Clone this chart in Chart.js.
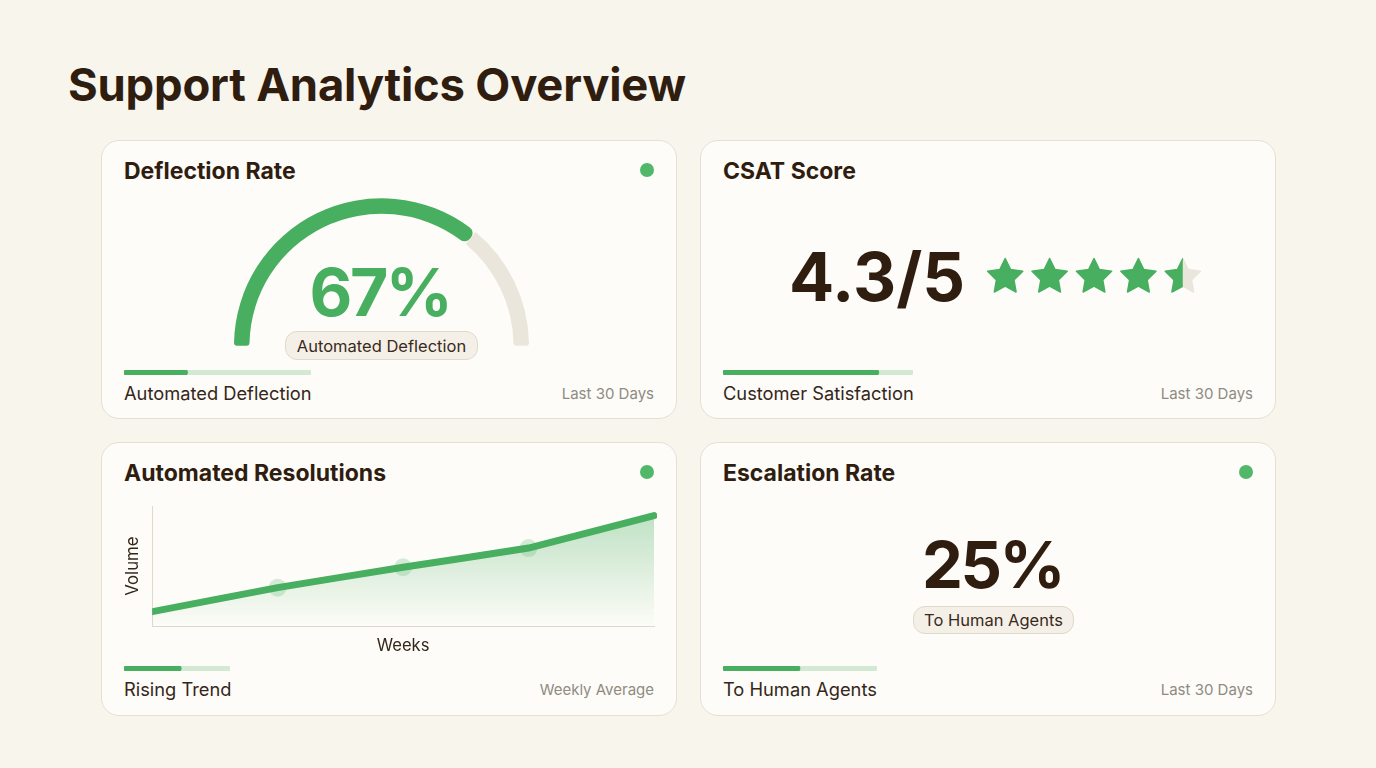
<!DOCTYPE html>
<html><head><meta charset="utf-8">
<script src="https://cdn.jsdelivr.net/npm/chart.js@4"></script>
<style>
html,body{margin:0;padding:0;width:1376px;height:768px;overflow:hidden;background:#f8f5ed;font-family:Inter,sans-serif;color:#2f1d10}
.t{position:absolute;white-space:nowrap;line-height:1;transform:translateY(-50%)}
.card{position:absolute;box-sizing:border-box;background:#fdfcf8;border:1.5px solid #e5e0d1;border-radius:18px}
.dot{position:absolute;width:14px;height:14px;border-radius:50%;background:#52b869}
.pill{position:absolute;box-sizing:border-box;background:#f4f0e7;border:1.5px solid #dfd9c9;border-radius:12px;display:flex;align-items:center;justify-content:center;font-size:16.5px;color:#3a2a1c}
canvas{position:absolute;display:block}
</style></head><body>
<div id="root"></div>
<script>
const pageTitle = "Support Analytics Overview";
const cardTitles = ["Deflection Rate","CSAT Score","Automated Resolutions","Escalation Rate"];
const footerLabels = ["Automated Deflection","Customer Satisfaction","Rising Trend","To Human Agents"];
const footerNotes = ["Last 30 Days","Last 30 Days","Weekly Average","Last 30 Days"];
const progressValues = [34,82,54,50];
const gaugeValues = [72,28];
const gaugeText = "67%";
const gaugeCaption = "Automated Deflection";
const csatText = "4.3/5";
const starPositions = [1,2,3,4,5];
const starFills = [1,1,1,1,0.5];
const weeks = ["W1","W2","W3","W4","W5"];
const volume = [12,32,49,65,92];
const markerVolume = [null,32,49,65,null];
const escalationText = "25%";
const escalationCaption = "To Human Agents";

const GREEN="#47af5f", TRACK="#ebe6dc", PALE="#d3e9d3";
const root=document.getElementById('root');
function el(cls,css,text){const d=document.createElement('div');d.className=cls;d.style.cssText=css;if(text)d.textContent=text;root.appendChild(d);return d;}
function cv(x,y,w,h){const c=document.createElement('canvas');c.width=w;c.height=h;c.style.cssText=`left:${x}px;top:${y}px;width:${w}px;height:${h}px`;root.appendChild(c);return c;}
Chart.defaults.animation=false;
Chart.defaults.responsive=false;
Chart.defaults.font.family="Inter, sans-serif";

el('t','left:68px;top:84.5px;font-size:45.4px;font-weight:700;letter-spacing:-0.2px',pageTitle);

const cards=[[101,140,576,278.5],[700,140,576,278.5],[101,442,576,273.5],[700,442,576,273.5]];
const titleY=[170.5,170.5,472.5,472.5], footY=[392.8,392.8,688.8,688.8], barY=[370,370,666,666];
const barW=[187,190,106,154];
cards.forEach((c,i)=>{
  el('card',`left:${c[0]}px;top:${c[1]}px;width:${c[2]}px;height:${c[3]}px`);
});
cards.forEach((c,i)=>{
  el('t',`left:${c[0]+23}px;top:${titleY[i]}px;font-size:23px;font-weight:700`,cardTitles[i]);
  el('t',`left:${c[0]+23}px;top:${footY[i]}px;font-size:18.3px;font-weight:400;color:#35261a`,footerLabels[i]);
  el('t',`right:${1376-c[0]-553}px;top:${footY[i]}px;font-size:15px;color:#8f8b82`,footerNotes[i]);
  if(i!==1) el('dot',`left:${c[0]+539}px;top:${titleY[i]-7.5}px`);
  new Chart(cv(c[0]+23,barY[i],barW[i],5),{type:'bar',
    data:{labels:[''],datasets:[
      {data:[progressValues[i]],backgroundColor:GREEN,borderRadius:3,borderSkipped:false,order:1},
      {data:[100],backgroundColor:PALE,borderRadius:3,borderSkipped:false,order:2}]},
    options:{indexAxis:'y',maintainAspectRatio:false,layout:{padding:0},
      datasets:{bar:{grouped:false,barPercentage:1,categoryPercentage:1}},
      plugins:{legend:{display:false},tooltip:{enabled:false}},
      scales:{x:{display:false,min:0,max:100},y:{display:false}}}});
});

// gauge
new Chart(cv(234,198,295,148),{type:'doughnut',
  data:{labels:['Automated','Other'],datasets:[{data:gaugeValues,backgroundColor:[GREEN,TRACK],borderWidth:0,
    borderRadius:[{outerStart:3,innerStart:3,outerEnd:7,innerEnd:7},{outerStart:0,innerStart:0,outerEnd:3,innerEnd:3}]}]},
  options:{rotation:-90,circumference:180,cutout:'89.5%',maintainAspectRatio:false,layout:{padding:0},
    plugins:{legend:{display:false},tooltip:{enabled:false}}}});
el('t',`left:380px;top:291.5px;font-size:66px;font-weight:700;letter-spacing:-2.5px;color:${GREEN};transform:translate(-50%,-50%)`,gaugeText);
el('pill','left:285px;top:331px;width:193px;height:29px',gaugeCaption);

// CSAT
el('t','left:789px;top:275.5px;font-size:67px;font-weight:700',csatText);
const starPlugin={id:'stars',afterDatasetsDraw(chart){
  const g=chart.ctx;
  chart.getDatasetMeta(0).data.forEach((pt,i)=>{
    const path=()=>{g.beginPath();for(let k=0;k<10;k++){const r=k%2?9.2:18.5,a=-Math.PI/2+k*Math.PI/5;g[k?'lineTo':'moveTo'](pt.x+r*Math.cos(a),pt.y+r*Math.sin(a));}g.closePath();};
    const split=pt.x-19.5+39*starFills[i];
    g.lineJoin='round';g.lineWidth=1.5;
    g.save();g.beginPath();g.rect(split,pt.y-25,40,50);g.clip();path();g.fillStyle=g.strokeStyle=TRACK;g.fill();g.stroke();g.restore();
    g.save();g.beginPath();g.rect(pt.x-25,pt.y-25,split-pt.x+25,50);g.clip();path();g.fillStyle=g.strokeStyle=GREEN;g.fill();g.stroke();g.restore();
  });
}};
new Chart(cv(983,255,222,44),{type:'scatter',plugins:[starPlugin],
  data:{datasets:[{data:starPositions.map(x=>({x,y:1})),pointRadius:0}]},
  options:{maintainAspectRatio:false,layout:{padding:0},
    plugins:{legend:{display:false},tooltip:{enabled:false}},
    scales:{x:{display:false,min:0.5,max:5.5},y:{display:false,min:0,max:2}}}});

// trend
new Chart(cv(123,497,541,159),{type:'line',
  data:{labels:weeks,datasets:[
    {data:volume,borderColor:GREEN,borderWidth:7,tension:0.05,pointRadius:0,borderCapStyle:'round',order:1,fill:'origin',
      clip:{left:0,top:false,right:3,bottom:false},
      backgroundColor:(ctx)=>{const a=ctx.chart.chartArea;if(!a)return 'transparent';
        const g=ctx.chart.ctx.createLinearGradient(0,a.top+8,0,a.bottom);
        g.addColorStop(0,'rgba(71,174,94,0.34)');g.addColorStop(1,'rgba(71,174,94,0)');return g;}},
    {data:markerVolume,showLine:false,pointRadius:9,pointBackgroundColor:'rgba(71,174,94,0.22)',pointBorderWidth:0,order:2}]},
  options:{maintainAspectRatio:false,layout:{padding:{left:0,right:10,top:6,bottom:0}},
    plugins:{legend:{display:false},tooltip:{enabled:false}},
    scales:{
      x:{offset:false,grid:{display:false,drawTicks:false},border:{color:'#ddd9cd'},ticks:{display:false},
        title:{display:true,text:'Weeks',color:'#35261a',font:{size:16.6},padding:{top:10,bottom:0}}},
      y:{min:0,max:100,grid:{display:false,drawTicks:false},border:{color:'#ddd9cd'},ticks:{display:false},
        title:{display:true,text:'Volume',color:'#35261a',font:{size:16.8},padding:{top:0,bottom:9}}}}}});

// escalation
el('t','left:992.5px;top:564px;font-size:65px;font-weight:700;letter-spacing:-2.5px;transform:translate(-50%,-50%)',escalationText);
el('pill','left:913px;top:606px;width:161px;height:28px',escalationCaption);
</script>
</body></html>
